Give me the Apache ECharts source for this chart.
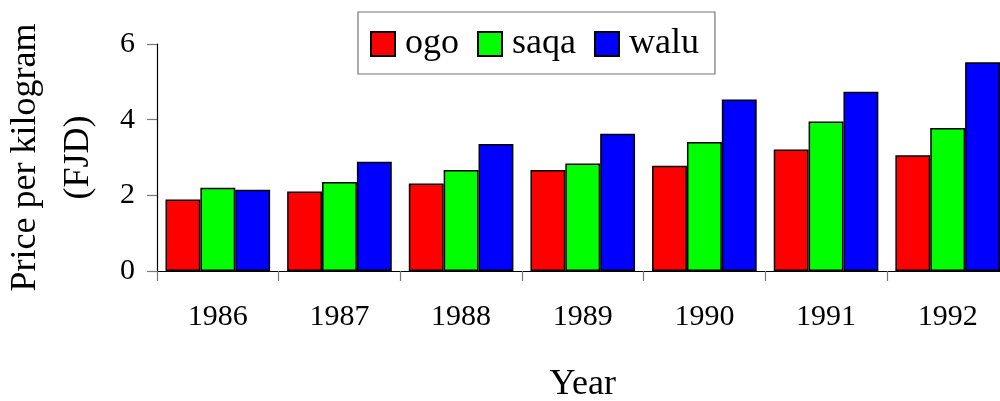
<!DOCTYPE html>
<html>
<head>
<meta charset="utf-8">
<script src="https://cdn.jsdelivr.net/npm/echarts@6/dist/echarts.min.js"></script>
<style>
  html, body { margin: 0; padding: 0; background: #fff; }
  #main { width: 1000px; height: 401px; }
</style>
</head>
<body>
<div id="main"></div>
<script>
var years = ["1986", "1987", "1988", "1989", "1990", "1991", "1992"];
var ogo = [1.89, 2.10, 2.31, 2.67, 2.78, 3.21, 3.06];
var saqa = [2.20, 2.35, 2.67, 2.84, 3.41, 3.95, 3.78];
var walu = [2.15, 2.89, 3.36, 3.63, 4.53, 4.74, 5.52];

var font = "'Liberation Serif', 'Times New Roman', serif";

var myChart = echarts.init(document.getElementById("main"));

function barSeries(name, color, data) {
  return {
    name: name,
    type: "bar",
    data: data,
    barGap: "0%",
    barCategoryGap: "14%",
    itemStyle: { color: color, borderColor: "#000", borderWidth: 1.5 }
  };
}

var option = {
  backgroundColor: "#fff",
  animation: false,
  textStyle: { fontFamily: font, color: "#000" },
  legend: {
    left: 358,
    top: 12,
    itemWidth: 24,
    itemHeight: 24,
    itemGap: 18,
    padding: [14, 16, 12, 12],
    borderColor: "#777",
    borderWidth: 1.2,
    backgroundColor: "#fff",
    icon: "rect",
    textStyle: { fontFamily: font, fontSize: 36, color: "#000", padding: [0, 0, 0, 5] },
    data: ["ogo", "saqa", "walu"]
  },
  grid: {
    left: 157,
    right: -8.5,
    top: 44,
    bottom: 130,
    outerBoundsMode: "none"
  },
  xAxis: {
    type: "category",
    data: years,
    name: "Year",
    nameLocation: "middle",
    nameGap: 96,
    nameTextStyle: { fontFamily: font, fontSize: 36, color: "#000" },
    axisLine: { lineStyle: { color: "#000", width: 1.2 } },
    axisTick: { show: true, length: 10, lineStyle: { color: "#777", width: 1.2 } },
    axisLabel: { fontFamily: font, fontSize: 30, color: "#000", margin: 31 }
  },
  yAxis: {
    type: "value",
    min: 0,
    max: 6,
    interval: 2,
    name: "Price per kilogram\n(FJD)",
    nameLocation: "middle",
    nameGap: 52,
    nameTextStyle: { fontFamily: font, fontSize: 36, color: "#000", lineHeight: 53 },
    splitLine: { show: false },
    axisLine: { show: true, lineStyle: { color: "#000", width: 1.2 } },
    axisTick: { show: true, length: 10, lineStyle: { color: "#777", width: 1.2 } },
    axisLabel: { fontFamily: font, fontSize: 30, color: "#000", margin: 22 }
  },
  series: [
    barSeries("ogo", "#ff0000", ogo),
    barSeries("saqa", "#00ff00", saqa),
    barSeries("walu", "#0000ff", walu)
  ]
};

myChart.setOption(option);
</script>
</body>
</html>
